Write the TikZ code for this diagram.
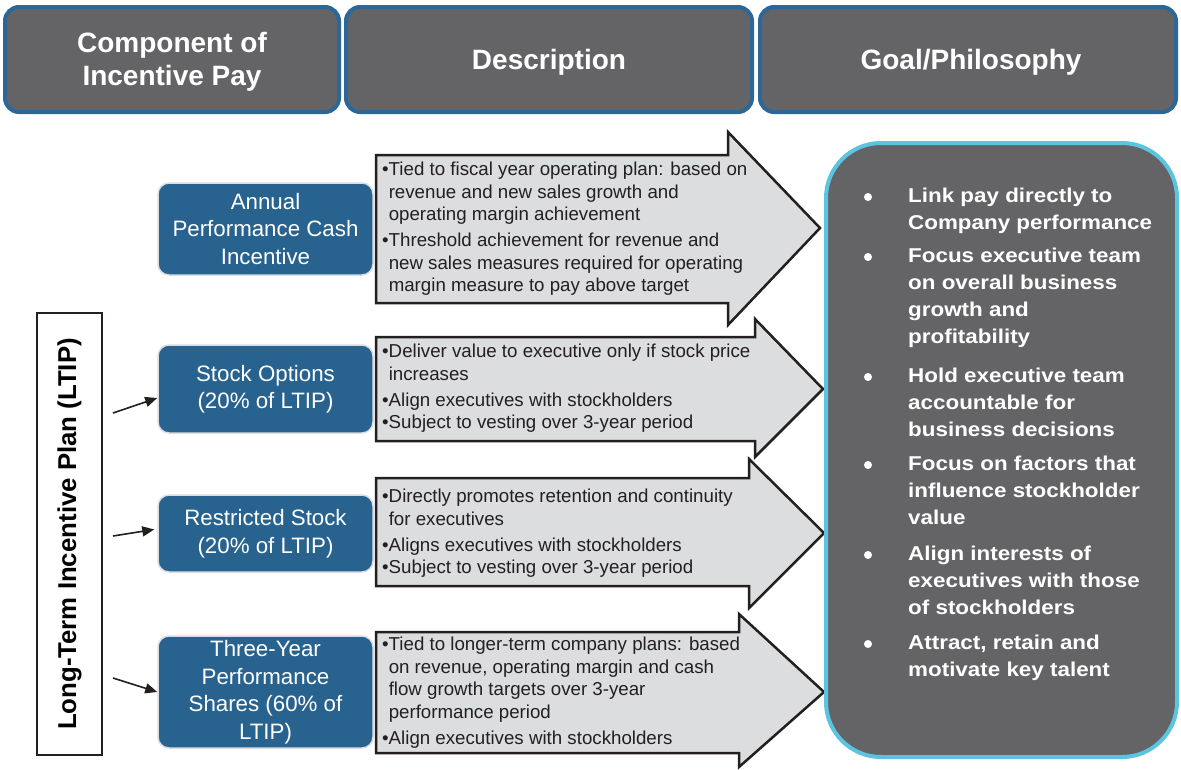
\documentclass[tikz,border=0pt]{standalone}
\usepackage{fontspec}
\setmainfont{Liberation Sans}
\newfontfamily\goalfont[FakeStretch=1.12]{Liberation Sans}
\usetikzlibrary{arrows.meta}
\definecolor{hdrfill}{HTML}{646466}
\definecolor{hdrline}{HTML}{2D6797}
\definecolor{bluefill}{HTML}{28628F}
\definecolor{blueline}{HTML}{DADDE1}
\definecolor{arrfill}{HTML}{DCDDDF}
\definecolor{arrline}{HTML}{231F20}
\definecolor{goalline}{HTML}{5BC4DF}
\begin{document}
\begin{tikzpicture}[x=1pt,y=-1pt,
 header/.style={draw=hdrline, line width=4pt, fill=hdrfill, rounded corners=14pt, inner sep=0pt},
 hdrtext/.style={text=white, font=\bfseries\fontsize{28}{33}\selectfont, align=center, inner sep=0pt},
 comp/.style={draw=blueline, line width=1.5pt, fill=bluefill, rounded corners=11pt,
   text=white, font=\fontsize{22.3}{27.5}\selectfont, align=center, inner sep=0pt,
   minimum width=215pt},
 bigarrow/.style={draw=arrline, line width=2.5pt, fill=arrfill, line join=miter},
 desc/.style={anchor=north west, inner sep=0pt, align=left, text=arrline,
   font=\fontsize{18.7}{22.5}\selectfont},
 ptr/.style={draw=arrline, line width=1.6pt, -{Triangle[length=12pt,width=10pt]}},
 goalitem/.style={anchor=north west, inner sep=0pt, align=left, text=white,
   font=\goalfont\bfseries\fontsize{20}{27}\selectfont},
 gdot/.style={circle, fill=white, inner sep=0pt, minimum size=8pt}
]
\useasboundingbox (0,0) rectangle (1181,769);
\fill[white] (0,0) rectangle (1181,769);

% headers
\node[header, minimum width=334pt, minimum height=105pt] (h1) at (172,59.5) {};
\node[header, minimum width=406pt, minimum height=105pt] (h2) at (549,59.5) {};
\node[header, minimum width=416pt, minimum height=105pt] (h3) at (968,59.5) {};
\node[hdrtext] (t1) at ([yshift=-2pt]h1.center) {Component of\\Incentive Pay};
\node[hdrtext] (t2) at ([yshift=-2.5pt]h2.center) {Description};
\node[hdrtext] (t3) at ([yshift=-2.5pt,xshift=3pt]h3.center) {Goal/Philosophy};

% big arrows
\draw[bigarrow] (376,155) -- (728,155) -- (728,132) -- (820,228) -- (728,325) -- (728,303) -- (376,303) -- cycle;
\draw[bigarrow] (376,337) -- (755,337) -- (755,319) -- (823,389) -- (755,457) -- (755,441) -- (376,441) -- cycle;
\draw[bigarrow] (376,478) -- (749,478) -- (749,459) -- (824,533) -- (749,608) -- (749,586) -- (376,586) -- cycle;
\draw[bigarrow] (376,632) -- (739,632) -- (739,614) -- (824,692) -- (739,767) -- (739,753) -- (376,753) -- cycle;

\node[desc] (d1) at (382,162) {•Tied to fiscal year operating plan: based on\\
\hphantom{•}revenue and new sales growth and\\
\hphantom{•}operating margin achievement\\[3.5pt]
•Threshold achievement for revenue and\\
\hphantom{•}new sales measures required for operating\\
\hphantom{•}margin measure to pay above target};
\node[desc] (d2) at (382,344) {•Deliver value to executive only if stock price\\
\hphantom{•}increases\\[3.5pt]
•Align executives with stockholders\\
•Subject to vesting over 3-year period};
\node[desc] (d3) at (382,489) {•Directly promotes retention and continuity\\
\hphantom{•}for executives\\[3.5pt]
•Aligns executives with stockholders\\
•Subject to vesting over 3-year period};
\node[desc] (d4) at (382,637) {•Tied to longer-term company plans: based\\
\hphantom{•}on revenue, operating margin and cash\\
\hphantom{•}flow growth targets over 3-year\\
\hphantom{•}performance period\\[3.5pt]
•Align executives with stockholders};

% components
\node[comp, minimum height=92pt] (c1) at (265.5,229) {Annual\\Performance Cash\\Incentive};
\node[comp, minimum height=88pt] (c2) at (265.5,389) {Stock Options\\(20\% of LTIP)};
\node[comp, minimum height=77pt] (c3) at (265.5,533.5) {Restricted Stock\\(20\% of LTIP)};
\node[comp, minimum height=112pt] (c4) at (265.5,692) {Three-Year\\Performance\\Shares (60\% of\\LTIP)};

% LTIP box
\node[draw=arrline, line width=1.5pt, rotate=90, minimum width=442pt, minimum height=65pt,
  inner sep=0pt, font=\bfseries\fontsize{25.8}{30}\selectfont] (ltip) at (69.5,534) {Long-Term Incentive Plan (LTIP)};
\coordinate (p1) at (113,413);
\coordinate (p2) at (113,536);
\coordinate (p3) at (113,678);
\draw[ptr] (p1) -- ([yshift=-9pt]c2.west);
\draw[ptr, shorten >=3pt] (p2) -- ([yshift=4.5pt]c3.west);
\draw[ptr] (p3) -- (c4.west);

% goal box
\node[draw=goalline, line width=4pt, fill=hdrfill, rounded corners=55pt,
  minimum width=351pt, minimum height=614pt] (goal) at (1001.5,450) {};
\node[gdot] (b1) at (868,197) {};
\node[gdot] (b2) at (868,257) {};
\node[gdot] (b3) at (868,377) {};
\node[gdot] (b4) at (868,465) {};
\node[gdot] (b5) at (868,555) {};
\node[gdot] (b6) at (868,644) {};
\node[goalitem] (g1) at (908,188) {Link pay directly to\\Company performance};
\node[goalitem] (g2) at (908,248) {Focus executive team\\on overall business\\growth and\\profitability};
\node[goalitem] (g3) at (908,368) {Hold executive team\\accountable for\\business decisions};
\node[goalitem] (g4) at (908,456) {Focus on factors that\\influence stockholder\\value};
\node[goalitem] (g5) at (908,546) {Align interests of\\executives with those\\of stockholders};
\node[goalitem] (g6) at (908,635) {Attract, retain and\\motivate key talent};
\end{tikzpicture}
\end{document}
